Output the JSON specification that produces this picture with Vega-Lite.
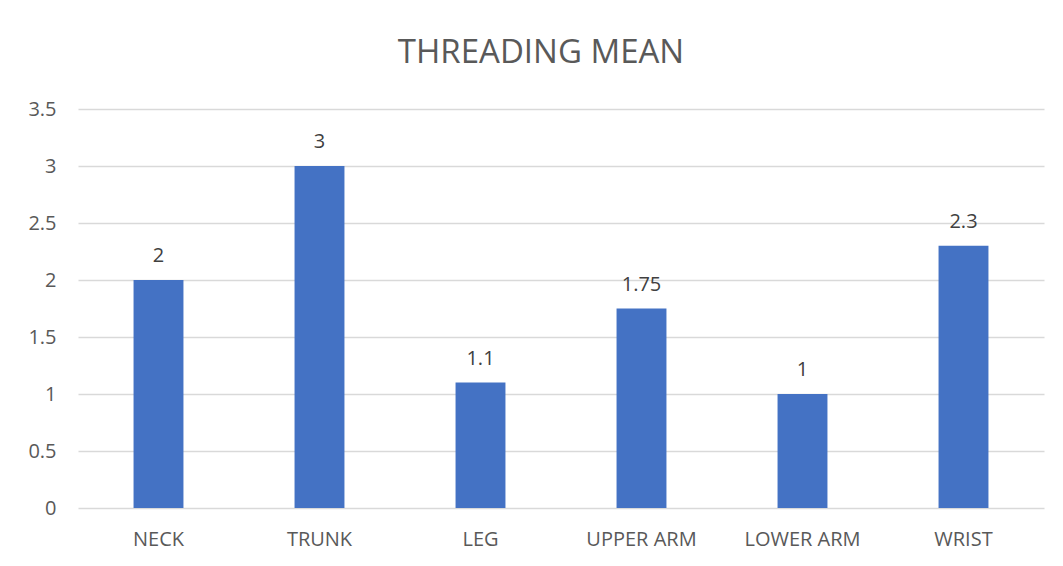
{
  "$schema": "https://vega.github.io/schema/vega-lite/v6.json",
  "autosize": {"type": "none"},
  "width": 966,
  "height": 399,
  "padding": {"left": 78, "top": 109, "right": 19, "bottom": 58},
  "background": "white",
  "title": {
    "text": "THREADING MEAN",
    "anchor": "middle",
    "frame": "group",
    "dx": -20,
    "offset": 29,
    "fontSize": 33,
    "font": "Open Sans",
    "fontWeight": "normal",
    "color": "#595959"
  },
  "config": {
    "view": {"stroke": null},
    "font": "Open Sans"
  },
  "data": {
    "values": [
      {"part": "NECK", "mean": 2},
      {"part": "TRUNK", "mean": 3},
      {"part": "LEG", "mean": 1.1},
      {"part": "UPPER ARM", "mean": 1.75},
      {"part": "LOWER ARM", "mean": 1},
      {"part": "WRIST", "mean": 2.3}
    ]
  },
  "encoding": {
    "x": {
      "field": "part",
      "type": "nominal",
      "sort": null,
      "scale": {"paddingInner": 0.69, "paddingOuter": 0.345},
      "axis": {
        "title": null,
        "labelAngle": 0,
        "ticks": false,
        "domain": false,
        "labelPadding": 21,
        "labelFontSize": 20,
        "labelColor": "#595959",
        "labelFont": "Open Sans"
      }
    },
    "y": {
      "field": "mean",
      "type": "quantitative",
      "scale": {"domain": [0, 3.5], "nice": false},
      "axis": {
        "title": null,
        "values": [0, 0.5, 1, 1.5, 2, 2.5, 3, 3.5],
        "format": "~g",
        "ticks": false,
        "domain": false,
        "grid": true,
        "gridColor": "#d9d9d9",
        "gridWidth": 1.5,
        "labelPadding": 22,
        "labelFontSize": 20,
        "labelColor": "#595959",
        "labelFont": "Open Sans"
      }
    }
  },
  "layer": [
    {"mark": {"type": "bar", "color": "#4472C4"}},
    {
      "mark": {"type": "text", "dy": -24, "fontSize": 20, "color": "#404040", "font": "Open Sans"},
      "encoding": {"text": {"field": "mean", "type": "quantitative"}}
    }
  ]
}
